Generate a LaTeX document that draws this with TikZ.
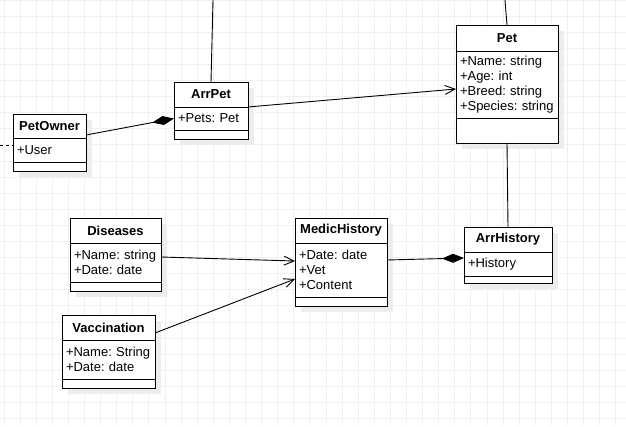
\documentclass[tikz,border=0pt]{standalone}
\usepackage{fontspec}
\setmainfont{Liberation Sans}
\usetikzlibrary{positioning,arrows.meta,shadows}

\begin{document}
\begin{tikzpicture}[x=1pt,y=-1pt,>={Straight Barb[length=10pt,width=9pt]},
    every node/.style={font=\fontsize{13}{15}\selectfont\frenchspacing,outer sep=0pt},
    gridline/.style={black!6,line width=1pt},
    box/.style={draw,line width=1pt,fill=white,drop shadow={shadow xshift=6pt,shadow yshift=-6pt,fill=black!7,opacity=1}},
    head/.style={box,anchor=north west,inner sep=0pt,minimum height=25pt,font=\fontsize{13}{15}\selectfont\bfseries},
    attr/.style={box,below=0pt of #1,align=left,inner xsep=4pt,inner ysep=0pt},
    ops/.style={box,below=0pt of #1,inner sep=0pt},
    comp/.style={-{Diamond[length=22pt,width=9pt]}},
    link/.style={line width=0.9pt}]
    \useasboundingbox (0,0) rectangle (626,426);
    \fill[white] (0,0) rectangle (626,426);
    \foreach \i in {0,...,38} \draw[gridline] ({4+16.1*\i},0) -- ({4+16.1*\i},426);
    \foreach \j in {0,...,26} \draw[gridline] (0,{16.1*\j}) -- (626,{16.1*\j});

    % classes
    \node[head,minimum width=73pt,minimum height=24pt] (owner) at (13,114) {PetOwner};
    \node[attr=owner,text width=65pt,minimum height=24pt] (owner-attr) {+User};
    \node[ops=owner-attr,minimum width=73pt,minimum height=9pt] (owner-ops) {};

    \node[head,minimum width=74pt] (arrpet) at (174,82) {ArrPet};
    \node[attr=arrpet,text width=66pt,minimum height=23pt] (arrpet-attr) {+Pets: Pet};
    \node[ops=arrpet-attr,minimum width=74pt,minimum height=9pt] (arrpet-ops) {};

    \node[head,minimum width=102pt,minimum height=26pt] (pet) at (456,25) {Pet};
    \node[attr=pet,text width=94pt,minimum height=67pt] (pet-attr) {+Name: string\\+Age: int\\+Breed: string\\+Species: string};
    \node[ops=pet-attr,minimum width=102pt,minimum height=25pt] (pet-ops) {};

    \node[head,minimum width=91pt] (dis) at (70,218) {Diseases};
    \node[attr=dis,text width=83pt,minimum height=39pt] (dis-attr) {+Name: string\\+Date: date};
    \node[ops=dis-attr,minimum width=91pt,minimum height=9pt] (dis-ops) {};

    \node[head,minimum width=93pt] (vac) at (62,315) {Vaccination};
    \node[attr=vac,text width=85pt,minimum height=39pt] (vac-attr) {+Name: String\\+Date: date};
    \node[ops=vac-attr,minimum width=93pt,minimum height=9pt] (vac-ops) {};

    \node[head,minimum width=92pt] (medic) at (295,218) {MedicHistory};
    \node[attr=medic,text width=84pt,minimum height=54pt] (medic-attr) {+Date: date\\+Vet\\+Content};
    \node[ops=medic-attr,minimum width=92pt,minimum height=9pt] (medic-ops) {};

    \node[head,minimum width=88pt] (arrhist) at (464,227) {ArrHistory};
    \node[attr=arrhist,text width=80pt,minimum height=24pt] (arrhist-attr) {+History};
    \node[ops=arrhist-attr,minimum width=88pt,minimum height=7pt] (arrhist-ops) {};

    % loose ends
    \coordinate (owner-in) at (0,145);
    \coordinate (arrpet-up) at (213,0);
    \coordinate (pet-up) at (505,0);

    % connectors
    \draw[link,dash pattern=on 3pt off 3pt] (owner-in) -- ([yshift=5pt]owner-attr.west);
    \draw[link,comp] ([yshift=3pt]owner.south east) -- (arrpet-attr.west);
    \draw[link] (arrpet-up) -- (arrpet.north);
    \draw[link,->] (arrpet.south east) -- ([yshift=-4.5pt]pet-attr.west);
    \draw[link] (pet-up) -- (pet.north);
    \draw[link] (pet-ops.south) -- (arrhist.north);
    \draw[link,->] ([yshift=5.5pt]dis-attr.east) -- ([yshift=9pt]medic-attr.west);
    \draw[link,->] ([yshift=7pt]vac.south east) -- ([yshift=-9pt]medic-attr.west);
    \draw[link,comp] ([yshift=10pt]medic-attr.east) -- ([yshift=6pt]arrhist-attr.west);
\end{tikzpicture}
\end{document}
